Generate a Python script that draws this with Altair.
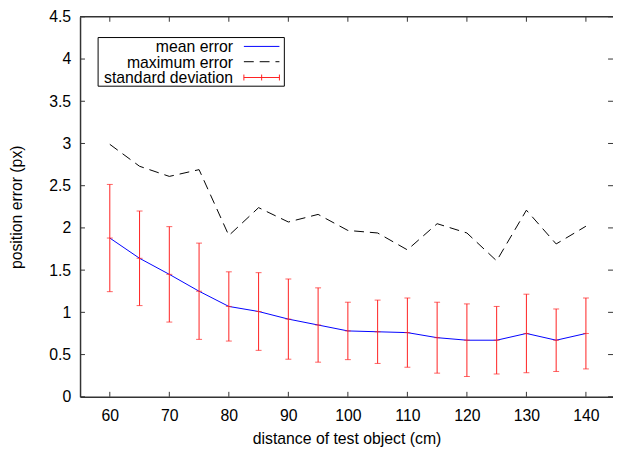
import altair as alt
import pandas as pd

# distance of test object (cm)
dist = [60, 65, 70, 75, 80, 85, 90, 95, 100, 105, 110, 115, 120, 125, 130, 135, 140]
mean_err = [1.88, 1.64, 1.45, 1.25, 1.07, 1.01, 0.92, 0.85, 0.78, 0.77, 0.76, 0.70, 0.67, 0.67, 0.75, 0.67, 0.75]
std_dev = [0.635, 0.56, 0.565, 0.57, 0.41, 0.46, 0.475, 0.44, 0.34, 0.375, 0.41, 0.42, 0.43, 0.40, 0.465, 0.37, 0.42]
max_err = [2.99, 2.73, 2.61, 2.69, 1.91, 2.24, 2.07, 2.16, 1.97, 1.94, 1.74, 2.05, 1.94, 1.61, 2.21, 1.81, 2.02]

x_ticks = [60, 70, 80, 90, 100, 110, 120, 130, 140]
y_ticks = [0, 0.5, 1, 1.5, 2, 2.5, 3, 3.5, 4, 4.5]
legend_labels = ["mean error", "maximum error", "standard deviation"]

W, H = 540, 385
TOP = 6
FONT = "Liberation Sans"
FS = 16
TL = 5  # inward tick length

df = pd.DataFrame({"d": dist, "mean": mean_err, "sd": std_dev, "max": max_err})
df["lo"] = df["mean"] - df["sd"]
df["hi"] = df["mean"] + df["sd"]

xs = alt.Scale(domain=[55, 144.55], nice=False, zero=False)
ys = alt.Scale(domain=[0, 4.5], nice=False, zero=False)

xax = alt.Axis(values=x_ticks, format="d", title="distance of test object (cm)",
               ticks=False, tickSize=0, grid=False, labelPadding=24,
               labelBaseline="alphabetic", titleX=W / 2, titleY=47,
               titleBaseline="alphabetic", titleAlign="center")
yax = alt.Axis(values=y_ticks, format="~g", title="position error (px)",
               ticks=False, tickSize=0, grid=False, labelPadding=9.5,
               titleX=-59.5, titleY=H / 2, titleAngle=270,
               titleBaseline="alphabetic", titleAlign="center")

base = alt.Chart(df)
X = alt.X("d:Q", scale=xs, axis=xax)

max_line = base.mark_line(color="black", strokeWidth=1, strokeDash=[10, 6]).encode(
    x=X, y=alt.Y("max:Q", scale=ys, axis=yax))
mean_line = base.mark_line(color="#0000ff", strokeWidth=1).encode(
    x="d:Q", y="mean:Q")
RED = "#ff2020"
err = base.mark_rule(color=RED, strokeWidth=1).encode(
    x="d:Q", y="lo:Q", y2="hi:Q")
cap_hi = base.mark_tick(color=RED, orient="horizontal", size=6, thickness=1).encode(
    x="d:Q", y="hi:Q")
cap_lo = base.mark_tick(color=RED, orient="horizontal", size=6, thickness=1).encode(
    x="d:Q", y="lo:Q")
cap_mid = base.mark_tick(color=RED, orient="horizontal", size=6, thickness=1).encode(
    x="d:Q", y="mean:Q")

xt = alt.Chart(pd.DataFrame({"d": x_ticks}))
yt = alt.Chart(pd.DataFrame({"v": y_ticks}))
tick_col = "#333333"
xt_bot = xt.mark_rule(color=tick_col).encode(x="d:Q", y=alt.value(H), y2=alt.value(H - TL))
xt_top = xt.mark_rule(color=tick_col).encode(x="d:Q", y=alt.value(0), y2=alt.value(TL))
yt_left = yt.mark_rule(color=tick_col).encode(y=alt.Y("v:Q", scale=ys), x=alt.value(0), x2=alt.value(TL))
yt_right = yt.mark_rule(color=tick_col).encode(y=alt.Y("v:Q", scale=ys), x=alt.value(W - TL), x2=alt.value(W))

one = alt.Chart(pd.DataFrame({"k": [0]}))
top_border = one.mark_rule(color="#333333", strokeWidth=1.5).encode(
    x=alt.value(0), x2=alt.value(W), y=alt.value(0))

# legend (positions relative to plot area)
LX0, LX1 = 18.3, 207
LY0, LY1 = 35 - 8 - TOP, 84.3 - 8 - TOP
TX = 155
S0, S1 = 166, 202
rows = [44 - 8 - TOP, 59.5 - 8 - TOP, 75.5 - 8 - TOP]
leg_box = one.mark_rect(fill="white", stroke="black", strokeWidth=1).encode(
    x=alt.value(LX0), x2=alt.value(LX1), y=alt.value(LY0), y2=alt.value(LY1))
leg_layers = [leg_box]
for lab, ry in zip(legend_labels, rows):
    leg_layers.append(
        alt.Chart(pd.DataFrame({"t": [lab]})).mark_text(
            align="right", baseline="middle", font=FONT, fontSize=FS, color="black"
        ).encode(text="t:N", x=alt.value(TX), y=alt.value(ry + 1)))
leg_layers.append(one.mark_rule(color="#0000ff", strokeWidth=1).encode(
    x=alt.value(S0), x2=alt.value(S1), y=alt.value(rows[0])))
leg_layers.append(one.mark_rule(color="black", strokeWidth=1, strokeDash=[10, 6]).encode(
    x=alt.value(S0), x2=alt.value(S1), y=alt.value(rows[1])))
leg_layers.append(one.mark_rule(color=RED, strokeWidth=1).encode(
    x=alt.value(S0), x2=alt.value(S1), y=alt.value(rows[2])))
for cx in (S0, (S0 + S1) / 2, S1):
    leg_layers.append(one.mark_rule(color=RED, strokeWidth=1).encode(
        x=alt.value(cx), y=alt.value(rows[2] - 3), y2=alt.value(rows[2] + 3)))

chart = alt.layer(
    max_line, mean_line, err, cap_hi, cap_lo, cap_mid,
    xt_bot, xt_top, yt_left, yt_right, top_border, *leg_layers
).properties(
    width=W, height=H,
    autosize=alt.AutoSizeParams(type="none"),
    padding={"left": 73, "top": TOP, "right": 0, "bottom": 52},
    background="white",
).configure_view(stroke=None).configure_axis(
    domainColor="#333333", domainWidth=1.5, labelFont=FONT, labelFontSize=FS,
    labelColor="black", titleFont=FONT, titleFontSize=FS, titleColor="black",
    titleFontWeight="normal",
)

chart.save("out.html", embed_options={"renderer": "svg", "actions": False})
